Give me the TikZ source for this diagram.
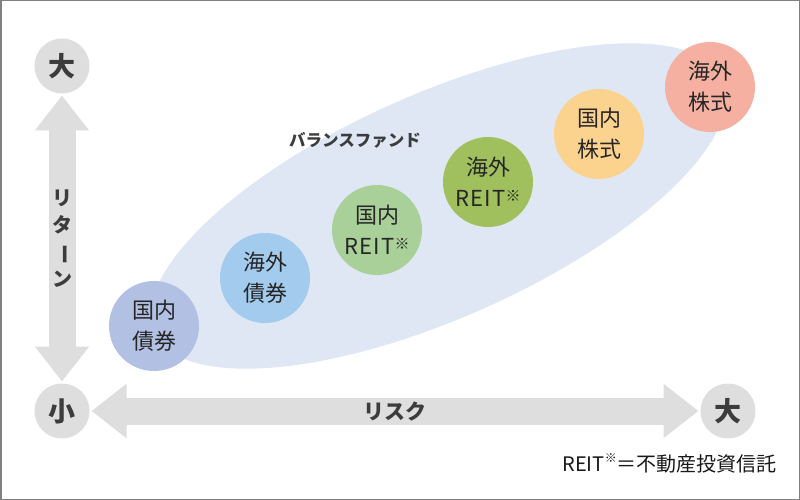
\documentclass[tikz,border=0pt]{standalone}
\usepackage{fontspec}
\setmainfont{Noto Sans CJK JP}
\usetikzlibrary{arrows.meta}
\definecolor{axisgray}{HTML}{DEDEDE}
\definecolor{axistext}{HTML}{3C3C3C}
\definecolor{bubtext}{HTML}{262626}
\definecolor{framegray}{HTML}{808080}
\definecolor{ellblue}{HTML}{DFE7F4}
\definecolor{cA}{HTML}{B2C0E4}
\definecolor{cB}{HTML}{A2CBED}
\definecolor{cC}{HTML}{A9D098}
\definecolor{cD}{HTML}{9FC05D}
\definecolor{cE}{HTML}{FBD38E}
\definecolor{cF}{HTML}{F5B0A1}
\newcommand\komeA{\raisebox{0.22em}{\fontsize{15}{15}\selectfont ※}}
\newcommand\reitword{R\kern1.2pt E\kern1.2pt I\kern1.2pt T}
\begin{document}
\begin{tikzpicture}[x=1pt,y=-1pt,
  axiscirc/.style={circle, fill=axisgray, minimum size=55pt, inner sep=0pt, outer sep=0pt, font=\fontsize{27}{27}\selectfont\bfseries, text=axistext},
  bubble/.style={circle, minimum size=90pt, inner sep=0pt, align=center, font=\fontsize{22}{31}\selectfont, text=bubtext},
  bigarrow/.style={draw=axisgray, line width=27pt, {Triangle[width=52pt,length=35pt]}-{Triangle[width=52pt,length=35pt]}, shorten <=2pt, shorten >=2pt},
  axislabel/.style={font=\fontsize{21}{26}\selectfont\bfseries, text=axistext, inner sep=0pt}
]
\useasboundingbox (0,0) rectangle (800,500);
\fill[white] (0,0) rectangle (800,500);
% balance fund ellipse
\fill[ellblue, rotate around={24:(438.5,206)}] (438.5,206) ellipse [x radius=311pt, y radius=112pt];
\node[font=\fontsize{16.5}{17}\selectfont\bfseries, text=axistext] (bal) at (355,140) {バランスファンド};
% axis circles
\node[axiscirc] (rbig) at (62,66) {大};
\node[axiscirc] (small) at (62,411) {小};
\node[axiscirc] (kbig) at (728,411) {大};
% arrows
\draw[bigarrow] (small.north) -- node[midway, axislabel, align=center, font=\fontsize{20}{27}\selectfont\bfseries] (ret) {リ\\タ\\\rotatebox[origin=c]{-90}{ー}\\ン} (rbig.south);
\draw[bigarrow] (small.east) -- node[midway, axislabel] (risk) {リスク} (kbig.west);
% bubbles
\node[bubble, fill=cA] (b1) at (154,326) {国内\\債券};
\node[bubble, fill=cB] (b2) at (265,278) {海外\\債券};
\node[bubble, fill=cC] (b3) at (377,230) {国内\\\reitword\komeA};
\node[bubble, fill=cD] (b4) at (488,182) {海外\\\reitword\komeA};
\node[bubble, fill=cE] (b5) at (599,134) {国内\\株式};
\node[bubble, fill=cF] (b6) at (710,87) {海外\\株式};
% footnote
\node[anchor=east, inner sep=0pt, font=\fontsize{20}{20}\selectfont, text=black!90] (note) at (777,463) {REIT\raisebox{0.45em}{\fontsize{12}{12}\selectfont ※}＝不動産投資信託};
% frame
\draw[framegray, line width=1.5pt] (0.75,0.75) rectangle (799.25,499.25);
\end{tikzpicture}
\end{document}
